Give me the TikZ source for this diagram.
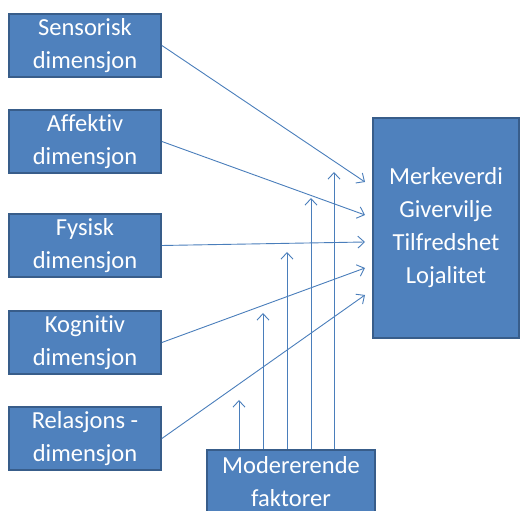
\documentclass[tikz,border=0pt]{standalone}
\usepackage{fontspec}
\setmainfont[Ligatures=NoCommon]{Carlito}
\usetikzlibrary{arrows.meta}
\definecolor{boxfill}{HTML}{4F81BD}
\definecolor{boxline}{HTML}{385D8A}
\definecolor{linkcol}{HTML}{4A7EBB}
\begin{document}
\begin{tikzpicture}[x=1pt,y=1pt,
  dimbox/.style={draw=boxline, line width=1.8pt, fill=boxfill, text=white,
    minimum width=152pt, minimum height=63pt, inner sep=0pt, align=center,
    font=\fontsize{24.5}{33}\selectfont},
  link/.style={draw=linkcol, line width=0.9pt,
    -{Straight Barb[length=6.5pt,width=12pt,line width=0.9pt]}}]
\useasboundingbox (0,0) rectangle (520,511);
\begin{scope}
\clip (0,0) rectangle (520,511);
% left column of dimensions
\node[dimbox] (sens) at (85,465.5) {Sensorisk\\dimensjon};
\node[dimbox] (aff)  at (85,369.5) {Affektiv\\dimensjon};
\node[dimbox] (fys)  at (85,265.5) {Fysisk\\dimensjon};
\node[dimbox] (kog)  at (85,168.5) {Kognitiv\\dimensjon};
\node[dimbox] (rel)  at (85,72.5)  {Relasjons -\\dimensjon};
% outcome box
\node[dimbox, minimum width=146pt, minimum height=220pt] (out) at (446,283)
  {Merkeverdi\\Givervilje\\Tilfredshet\\Lojalitet};
% moderating factors
\node[dimbox, minimum width=168pt] (mod) at (291,29.5) {Modererende\\faktorer};
\end{scope}
% arrow tips in front of the outcome box
\coordinate (t1) at (365,329);
\coordinate (t2) at (365,296);
\coordinate (t3) at (365,269);
\coordinate (t4) at (365,243);
\coordinate (t5) at (365,216);
\draw[link] (sens.east) -- (t1);
\draw[link] (aff.east)  -- (t2);
\draw[link] (fys.east)  -- (t3);
\draw[link] (kog.east)  -- (t4);
\draw[link] (rel.east)  -- (t5);
% moderating arrows
\coordinate (m1) at (239,111);
\coordinate (m2) at (263,198);
\coordinate (m3) at (287,259);
\coordinate (m4) at (311,313);
\coordinate (m5) at (334,339);
\foreach \m in {m1,m2,m3,m4,m5}
  \draw[link] (mod.north -| \m) -- (\m);
\end{tikzpicture}
\end{document}
